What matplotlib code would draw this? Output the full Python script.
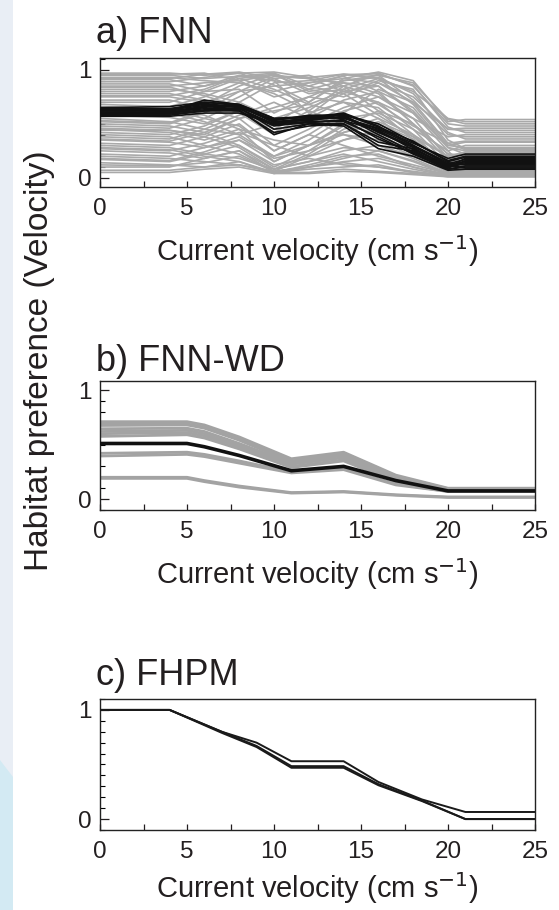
import matplotlib
matplotlib.use("Agg")
import matplotlib.pyplot as plt
from matplotlib.patches import Rectangle, Polygon
from matplotlib.ticker import MultipleLocator

plt.rcParams['font.family'] = ['Liberation Sans', 'DejaVu Sans']

# ---------------- data ----------------
xa = [0, 4, 6, 8, 10, 12, 14, 16, 18, 20, 21, 25]
fnn_gray = [
    [0.97, 0.97, 0.95, 0.97, 0.98, 0.93, 0.96, 0.92, 0.80, 0.55, 0.52, 0.52],
    [0.96, 0.96, 0.97, 0.90, 0.75, 0.82, 0.90, 0.95, 0.88, 0.54, 0.50, 0.50],
    [0.95, 0.95, 0.92, 0.94, 0.90, 0.85, 0.95, 0.97, 0.85, 0.50, 0.48, 0.48],
    [0.93, 0.93, 0.90, 0.88, 0.80, 0.88, 0.92, 0.88, 0.70, 0.45, 0.44, 0.44],
    [0.92, 0.92, 0.96, 0.98, 0.92, 0.78, 0.82, 0.68, 0.48, 0.32, 0.34, 0.34],
    [0.91, 0.91, 0.85, 0.92, 0.96, 0.80, 0.85, 0.75, 0.55, 0.38, 0.40, 0.40],
    [0.89, 0.89, 0.93, 0.97, 0.86, 0.70, 0.90, 0.93, 0.78, 0.42, 0.36, 0.36],
    [0.87, 0.87, 0.80, 0.82, 0.60, 0.75, 0.88, 0.85, 0.60, 0.30, 0.33, 0.33],
    [0.85, 0.85, 0.88, 0.90, 0.95, 0.92, 0.80, 0.70, 0.45, 0.25, 0.30, 0.30],
    [0.84, 0.84, 0.76, 0.66, 0.45, 0.62, 0.85, 0.96, 0.86, 0.47, 0.42, 0.42],
    [0.82, 0.82, 0.78, 0.70, 0.55, 0.65, 0.78, 0.90, 0.82, 0.35, 0.27, 0.27],
    [0.80, 0.80, 0.85, 0.95, 0.90, 0.60, 0.70, 0.65, 0.40, 0.20, 0.24, 0.24],
    [0.78, 0.78, 0.72, 0.60, 0.40, 0.55, 0.72, 0.80, 0.65, 0.28, 0.22, 0.22],
    [0.76, 0.76, 0.82, 0.94, 0.97, 0.85, 0.78, 0.58, 0.38, 0.20, 0.23, 0.23],
    [0.75, 0.75, 0.70, 0.80, 0.85, 0.88, 0.94, 0.80, 0.50, 0.22, 0.20, 0.20],
    [0.72, 0.72, 0.65, 0.55, 0.30, 0.45, 0.62, 0.70, 0.55, 0.18, 0.18, 0.18],
    [0.70, 0.70, 0.80, 0.92, 0.82, 0.68, 0.60, 0.45, 0.30, 0.15, 0.16, 0.16],
    [0.68, 0.66, 0.75, 0.88, 0.78, 0.62, 0.50, 0.40, 0.25, 0.10, 0.11, 0.11],
    [0.66, 0.64, 0.58, 0.45, 0.15, 0.30, 0.48, 0.62, 0.50, 0.16, 0.15, 0.15],
    [0.65, 0.63, 0.55, 0.48, 0.25, 0.40, 0.60, 0.82, 0.70, 0.32, 0.26, 0.26],
    [0.62, 0.60, 0.52, 0.40, 0.50, 0.70, 0.92, 0.98, 0.90, 0.52, 0.54, 0.54],
    [0.60, 0.58, 0.68, 0.85, 0.96, 0.82, 0.75, 0.88, 0.75, 0.45, 0.46, 0.46],
    [0.58, 0.56, 0.50, 0.62, 0.42, 0.58, 0.82, 0.92, 0.68, 0.30, 0.28, 0.28],
    [0.55, 0.52, 0.45, 0.40, 0.20, 0.35, 0.55, 0.60, 0.45, 0.12, 0.14, 0.14],
    [0.53, 0.51, 0.62, 0.80, 0.94, 0.92, 0.88, 0.78, 0.50, 0.22, 0.21, 0.21],
    [0.52, 0.50, 0.60, 0.75, 0.92, 0.95, 0.85, 0.62, 0.35, 0.14, 0.12, 0.12],
    [0.50, 0.48, 0.42, 0.30, 0.10, 0.25, 0.45, 0.55, 0.40, 0.10, 0.10, 0.10],
    [0.48, 0.46, 0.55, 0.70, 0.88, 0.90, 0.96, 0.95, 0.72, 0.40, 0.38, 0.38],
    [0.46, 0.44, 0.38, 0.28, 0.08, 0.22, 0.42, 0.50, 0.36, 0.09, 0.10, 0.10],
    [0.45, 0.42, 0.35, 0.45, 0.35, 0.30, 0.40, 0.35, 0.20, 0.08, 0.09, 0.09],
    [0.44, 0.44, 0.40, 0.55, 0.65, 0.75, 0.70, 0.55, 0.30, 0.12, 0.13, 0.13],
    [0.42, 0.40, 0.48, 0.62, 0.45, 0.50, 0.65, 0.75, 0.60, 0.25, 0.08, 0.08],
    [0.40, 0.38, 0.30, 0.22, 0.06, 0.20, 0.35, 0.42, 0.28, 0.06, 0.07, 0.07],
    [0.38, 0.36, 0.45, 0.58, 0.70, 0.55, 0.40, 0.30, 0.20, 0.06, 0.06, 0.06],
    [0.36, 0.34, 0.42, 0.55, 0.62, 0.68, 0.80, 0.85, 0.62, 0.28, 0.25, 0.25],
    [0.35, 0.33, 0.28, 0.35, 0.15, 0.30, 0.50, 0.40, 0.22, 0.05, 0.05, 0.05],
    [0.32, 0.30, 0.38, 0.50, 0.25, 0.40, 0.30, 0.20, 0.12, 0.04, 0.05, 0.05],
    [0.30, 0.28, 0.22, 0.18, 0.08, 0.15, 0.25, 0.30, 0.18, 0.04, 0.04, 0.04],
    [0.28, 0.26, 0.20, 0.15, 0.04, 0.10, 0.18, 0.25, 0.16, 0.04, 0.04, 0.04],
    [0.27, 0.25, 0.32, 0.42, 0.30, 0.20, 0.28, 0.25, 0.15, 0.03, 0.04, 0.04],
    [0.25, 0.23, 0.18, 0.25, 0.05, 0.12, 0.20, 0.22, 0.10, 0.03, 0.03, 0.03],
    [0.22, 0.20, 0.28, 0.38, 0.18, 0.25, 0.35, 0.45, 0.30, 0.08, 0.03, 0.03],
    [0.20, 0.18, 0.15, 0.12, 0.06, 0.10, 0.15, 0.18, 0.10, 0.02, 0.02, 0.02],
    [0.18, 0.16, 0.24, 0.35, 0.20, 0.30, 0.42, 0.52, 0.38, 0.12, 0.06, 0.06],
    [0.17, 0.15, 0.22, 0.30, 0.12, 0.18, 0.12, 0.10, 0.06, 0.02, 0.02, 0.02],
    [0.14, 0.12, 0.10, 0.15, 0.05, 0.08, 0.10, 0.12, 0.05, 0.02, 0.02, 0.02],
    [0.12, 0.11, 0.14, 0.20, 0.06, 0.10, 0.14, 0.10, 0.05, 0.01, 0.01, 0.01],
    [0.10, 0.10, 0.18, 0.25, 0.08, 0.15, 0.22, 0.15, 0.08, 0.02, 0.02, 0.02],
    [0.07, 0.07, 0.10, 0.12, 0.05, 0.05, 0.08, 0.06, 0.04, 0.02, 0.02, 0.02],
    [0.05, 0.05, 0.08, 0.10, 0.04, 0.04, 0.06, 0.05, 0.03, 0.01, 0.01, 0.01],
]
fnn_black = [
    [0.62, 0.62, 0.72, 0.68, 0.55, 0.56, 0.60, 0.48, 0.30, 0.14, 0.12, 0.12],
    [0.60, 0.60, 0.66, 0.64, 0.50, 0.54, 0.56, 0.45, 0.30, 0.12, 0.15, 0.15],
    [0.64, 0.64, 0.68, 0.66, 0.52, 0.55, 0.58, 0.42, 0.28, 0.10, 0.18, 0.18],
    [0.58, 0.58, 0.62, 0.62, 0.48, 0.52, 0.52, 0.38, 0.22, 0.08, 0.10, 0.10],
    [0.63, 0.63, 0.70, 0.67, 0.53, 0.58, 0.58, 0.50, 0.33, 0.16, 0.20, 0.20],
    [0.61, 0.61, 0.64, 0.63, 0.40, 0.50, 0.50, 0.30, 0.25, 0.10, 0.13, 0.13],
    [0.59, 0.60, 0.63, 0.65, 0.45, 0.50, 0.48, 0.27, 0.20, 0.07, 0.08, 0.08],
    [0.65, 0.66, 0.70, 0.68, 0.55, 0.57, 0.55, 0.46, 0.32, 0.18, 0.22, 0.22],
    [0.57, 0.57, 0.60, 0.60, 0.50, 0.52, 0.53, 0.44, 0.26, 0.12, 0.09, 0.09],
    [0.62, 0.63, 0.67, 0.66, 0.52, 0.53, 0.57, 0.40, 0.24, 0.09, 0.16, 0.16],
    [0.60, 0.61, 0.65, 0.62, 0.42, 0.48, 0.50, 0.33, 0.27, 0.11, 0.14, 0.14],
    [0.64, 0.64, 0.69, 0.65, 0.54, 0.56, 0.59, 0.47, 0.34, 0.15, 0.19, 0.19],
    [0.59, 0.59, 0.62, 0.64, 0.49, 0.51, 0.54, 0.36, 0.23, 0.08, 0.11, 0.11],
    [0.63, 0.62, 0.66, 0.67, 0.51, 0.55, 0.56, 0.43, 0.29, 0.13, 0.17, 0.17],
]

xb = [0, 5, 6, 8, 11, 14, 17, 20, 25]
wd_gray = [
    [0.71, 0.71, 0.68, 0.57, 0.37, 0.43, 0.22, 0.100, 0.100],
    [0.69, 0.69, 0.66, 0.55, 0.35, 0.42, 0.21, 0.095, 0.095],
    [0.675, 0.68, 0.65, 0.54, 0.34, 0.41, 0.20, 0.090, 0.090],
    [0.645, 0.65, 0.62, 0.51, 0.33, 0.40, 0.19, 0.090, 0.090],
    [0.62, 0.63, 0.60, 0.49, 0.32, 0.38, 0.18, 0.085, 0.085],
    [0.60, 0.61, 0.58, 0.48, 0.30, 0.36, 0.17, 0.080, 0.080],
    [0.575, 0.59, 0.56, 0.46, 0.29, 0.35, 0.16, 0.080, 0.080],
    [0.42, 0.43, 0.41, 0.35, 0.25, 0.28, 0.14, 0.070, 0.070],
    [0.395, 0.41, 0.39, 0.33, 0.24, 0.27, 0.13, 0.070, 0.070],
    [0.20, 0.20, 0.17, 0.12, 0.06, 0.07, 0.04, 0.020, 0.020],
    [0.19, 0.19, 0.16, 0.11, 0.055, 0.065, 0.035, 0.015, 0.015],
]
wd_black = [0.51, 0.51, 0.48, 0.40, 0.26, 0.30, 0.17, 0.075, 0.075]

xc = [0, 4, 7, 9, 11, 14, 16, 18.5, 21, 25]
fhpm_lines = [
    [1.0, 1.0, 0.80, 0.70, 0.53, 0.53, 0.34, 0.18, 0.065, 0.065],
    [1.0, 1.0, 0.80, 0.67, 0.485, 0.485, 0.32, 0.17, 0.0, 0.0],
    [1.0, 1.0, 0.79, 0.66, 0.47, 0.47, 0.31, 0.165, 0.0, 0.0],
]

titles = ["a) FNN", "b) FNN-WD", "c) FHPM"]
xlabel = "Current velocity (cm s$^{-1}$)"
ylabel = "Habitat preference (Velocity)"
xticks = [0, 5, 10, 15, 20, 25]
yticks = [0, 1]

# ---------------- figure ----------------
W, H = 559, 910
fig = plt.figure(figsize=(W / 100, H / 100), dpi=100)
fig.patch.set_facecolor("white")

# decorative background strip at the left edge
fig.patches.append(Rectangle((0, 0), 13 / W, 1, transform=fig.transFigure,
                             facecolor="#e9eef5", edgecolor="none", zorder=-5))
fig.patches.append(Polygon([(0, 0), (13 / W, 0), (13 / W, 1 - 777 / H), (0, 1 - 760 / H)],
                           closed=True, transform=fig.transFigure,
                           facecolor="#d3eaf3", edgecolor="none", zorder=-4))

txt = "#231f20"
L, Wd = 100 / W, 435 / W
boxes = [(58, 187, (-0.085, 1.11)), (381, 510, (-0.10, 1.083)), (699, 830, (-0.10, 1.10))]
labelpads = [9, 9, 5]
axes = []
for (top, bot, yl), lp in zip(boxes, labelpads):
    ax = fig.add_axes([L, 1 - bot / H, Wd, (bot - top) / H])
    ax.set_xlim(0, 25)
    ax.set_ylim(*yl)
    ax.set_xticks(xticks)
    ax.xaxis.set_minor_locator(MultipleLocator(2.5))
    ax.set_yticks(yticks)
    ax.yaxis.set_minor_locator(MultipleLocator(0.1))
    ax.tick_params(axis="x", which="both", direction="in", length=4.5, width=0.9,
                   labelsize=17.5, pad=8, colors=txt, top=False)
    ax.tick_params(axis="y", which="major", direction="in", length=6.5, width=0.9,
                   labelsize=17.5, pad=6, colors=txt, right=False)
    ax.tick_params(axis="y", which="minor", direction="in", length=3.5, width=0.8,
                   right=False)
    for s in ax.spines.values():
        s.set_linewidth(1.0)
        s.set_color("#222222")
    ax.set_xlabel(xlabel, fontsize=21, color=txt, labelpad=lp)
    axes.append(ax)

# panel a
axa = axes[0]
for ys in fnn_gray:
    axa.plot(xa, ys, color="#a9a9a9", lw=1.2, zorder=2)
for ys in fnn_black:
    axa.plot(xa, ys, color="#111111", lw=1.2, zorder=3)

# panel b
axb = axes[1]
for ys in wd_gray:
    axb.plot(xb, ys, color="#a3a3a3", lw=2.0, zorder=2)
axb.plot(xb, wd_black, color="#111111", lw=2.6, zorder=3)

# panel c
axc = axes[2]
for ys in fhpm_lines:
    axc.plot(xc, ys, color="#1a1a1a", lw=1.4, zorder=3)

# titles
for t, base in zip(titles, [43, 371, 685]):
    fig.text(96 / W, 1 - base / H, t, fontsize=26, color=txt, ha="left", va="baseline")

fig.text(40 / W, 1 - 361 / H, ylabel, rotation=90, fontsize=24, color=txt,
         ha="center", va="center")

fig.savefig("out.png", dpi=100, facecolor="white")
